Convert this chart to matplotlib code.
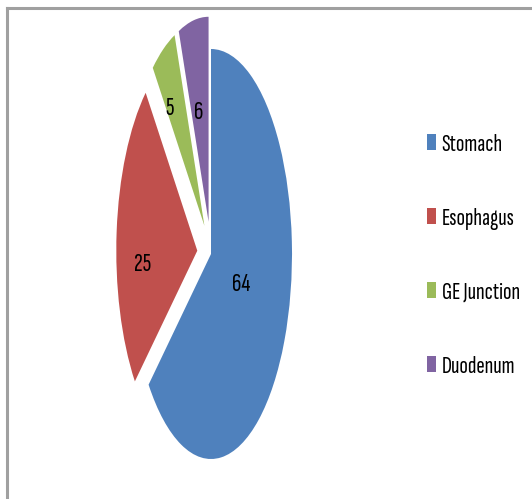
import matplotlib.pyplot as plt
from matplotlib.lines import Line2D

# 数据
labels = ["Stomach", "Esophagus", "GE Junction", "Duodenum"]
values = [64, 25, 5, 6]
colors = ["#4F81BD", "#C0504D", "#9BBB59", "#8064A2"]
explode = [0, 0.17, 0.16, 0.16]

# 数值标签位置 (相对饼图中心, 单位半径)
label_pos = [(0.37, -0.15), (-0.84, -0.05), (-0.51, 0.71), (-0.15, 0.69)]

plt.rcParams["font.family"] = ["Sofia Sans Extra Condensed", "DejaVu Sans"]

W, H = 532, 499
fig = plt.figure(figsize=(W / 100, H / 100), dpi=100)

# 椭圆形饼图: 中心(211, 254), 半径 rx=81, ry=205 (像素)
cx, cy, rx, ry = 211, 254, 81, 205
lim = 1.2
ax = fig.add_axes([(cx - lim * rx) / W, (H - cy - lim * ry) / H,
                   2 * lim * rx / W, 2 * lim * ry / H])
wedges, texts, autotexts = ax.pie(values, colors=colors, explode=explode,
                                  startangle=90, counterclock=False,
                                  autopct=lambda p: "%d" % round(p),
                                  textprops={"fontsize": 19, "color": "black"},
                                  wedgeprops={"linewidth": 0})
for t, p in zip(autotexts, label_pos):
    t.set_position(p)
ax.set_aspect("auto")
ax.set_xlim(-lim, lim)
ax.set_ylim(-lim, lim)
ax.axis("off")

# 图例
fig.legend(wedges, labels, loc="upper left", bbox_to_anchor=(427 / W, 1 - 134 / H),
           frameon=False, fontsize=18, handlelength=0.36, handleheight=0.6,
           handletextpad=0.22, labelspacing=2.08, borderpad=0, borderaxespad=0)

# 外框线 (上、左)
fig.add_artist(Line2D([7 / W, 1], [1 - 8 / H, 1 - 8 / H], color="#A0A0A0", lw=2.2,
                      transform=fig.transFigure))
fig.add_artist(Line2D([7 / W, 7 / W], [0, 1 - 8 / H], color="#A0A0A0", lw=2.2,
                      transform=fig.transFigure))

fig.savefig("out.png", dpi=100)
